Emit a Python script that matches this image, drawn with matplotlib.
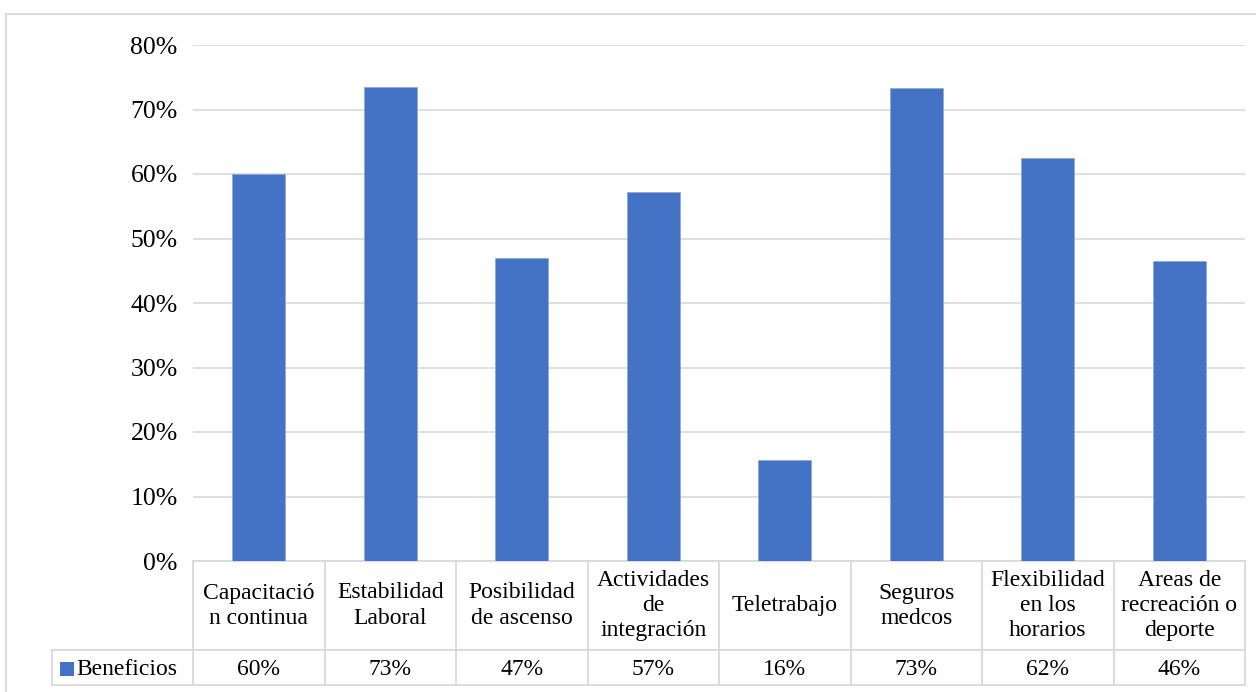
import matplotlib
matplotlib.use("Agg")
import matplotlib.pyplot as plt
from matplotlib.patches import Rectangle
import numpy as np

plt.rcParams["font.family"] = ["Liberation Serif", "DejaVu Serif"]

# datos
categorias = ["Capacitació\nn continua", "Estabilidad\nLaboral", "Posibilidad\nde ascenso",
              "Actividades\nde\nintegración", "Teletrabajo", "Seguros\nmedcos",
              "Flexibilidad\nen los\nhorarios", "Areas de\nrecreación o\ndeporte"]
valores = [60.0, 73.5, 47.0, 57.2, 15.6, 73.3, 62.5, 46.5]
etiquetas = ["60%", "73%", "47%", "57%", "16%", "73%", "62%", "46%"]
serie = "Beneficios"

AZUL = "#4472C4"
GRIS = "#d9d9d9"

fig = plt.figure(figsize=(12.56, 6.92), dpi=100)
ax = fig.add_axes([193 / 1256, 131 / 692, 1052 / 1256, 516 / 692])

x = np.arange(len(categorias))
ax.bar(x, valores, 0.40, color=AZUL, edgecolor="#8fa9dc", linewidth=0.6, zorder=3)

ax.set_xlim(-0.5, len(categorias) - 0.5)
ax.set_ylim(0, 80)
ax.set_yticks(np.arange(0, 81, 10))
ax.set_yticklabels([f"{v}%" for v in range(0, 81, 10)], fontsize=18.5)
ax.tick_params(axis="y", length=0, pad=11)
ax.set_xticks([])
ax.grid(axis="y", color=GRIS, linewidth=1.2, zorder=0)
for s in ax.spines.values():
    s.set_visible(False)

# =============================================
#  tabla de datos bajo el eje
# =============================================
tr = ax.get_xaxis_transform()
y_top, y_mid, y_bot = 0.0, -89 / 516, -124 / 516
lk = dict(color=GRIS, linewidth=1.3, clip_on=False, transform=tr)

# líneas horizontales
ax.plot([-0.5, len(categorias) - 0.5], [y_mid, y_mid], **lk)
ax.plot([-0.5, len(categorias) - 0.5], [y_bot, y_bot], **lk)
ax.plot([-0.5, len(categorias) - 0.5], [y_top, y_top], **lk)
# celda de leyenda
x_leg = -0.5 - 141 / 131.5
ax.plot([x_leg, -0.5], [y_mid, y_mid], **lk)
ax.plot([x_leg, -0.5], [y_bot, y_bot], **lk)
ax.plot([x_leg, x_leg], [y_mid, y_bot], **lk)
# verticales
for i in range(len(categorias) + 1):
    ax.plot([i - 0.5, i - 0.5], [y_top, y_bot], **lk)

for i, (c, e) in enumerate(zip(categorias, etiquetas)):
    ax.text(i, (y_top + y_mid) / 2, c, transform=tr, ha="center", va="center",
            fontsize=17, linespacing=1.25, clip_on=False)
    ax.text(i, (y_mid + y_bot) / 2 - 2 / 516, e, transform=tr, ha="center", va="center",
            fontsize=17, clip_on=False)

ax.add_patch(Rectangle((x_leg + 8 / 131.5, (y_mid + y_bot) / 2 - 8 / 516), 14 / 131.5, 14 / 516,
                       transform=tr, facecolor=AZUL, edgecolor="none", clip_on=False))
ax.text(x_leg + 24 / 131.5, (y_mid + y_bot) / 2 - 2 / 516, serie, transform=tr, ha="left",
        va="center", fontsize=17, clip_on=False)

# borde del área del gráfico
fig.patches.append(Rectangle((6 / 1256, -0.05), 1.2, 1 - 14 / 692 + 0.05,
                             transform=fig.transFigure, facecolor="none",
                             edgecolor=GRIS, linewidth=1.3))

fig.savefig("out.png", dpi=100)
